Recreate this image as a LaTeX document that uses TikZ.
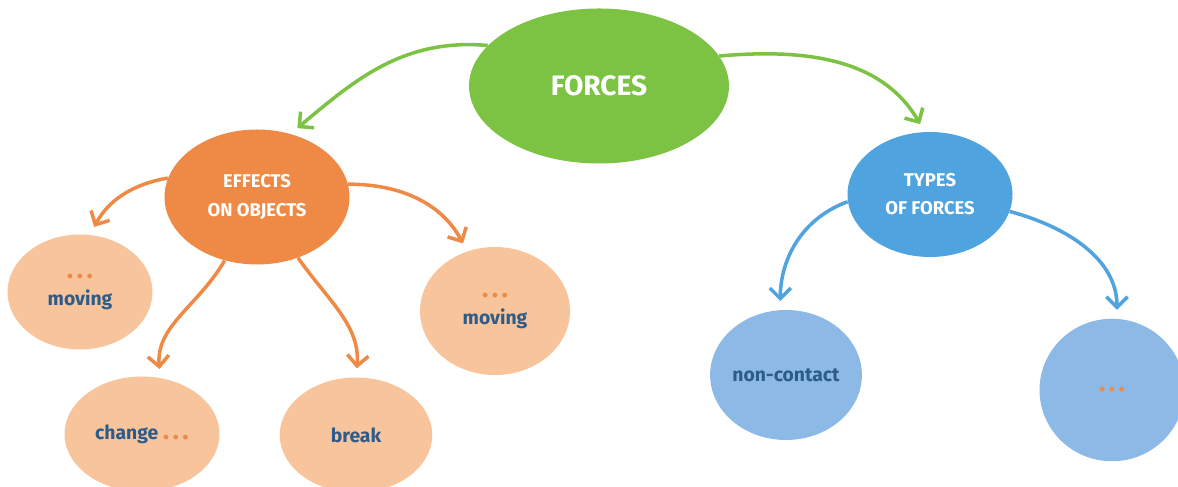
\documentclass[tikz,border=0pt]{standalone}
\usepackage{fontspec}
\setmainfont{Fira Sans}
\usepackage{xcolor}
\usetikzlibrary{arrows.meta,positioning,shapes.geometric}
\definecolor{forcegreen}{HTML}{7CC243}
\definecolor{effectorange}{HTML}{EE8A45}
\definecolor{paleorange}{HTML}{F8C49B}
\definecolor{typeblue}{HTML}{4FA3DF}
\definecolor{paleblue}{HTML}{8DB9E6}
\definecolor{inkblue}{HTML}{2D5B8A}
\newcommand{\moredots}{{\color{effectorange}\fontsize{15}{15}\selectfont
  .\kern2pt.\kern2pt.}}

\begin{document}
\begin{tikzpicture}[
  blob/.style={ellipse, inner sep=0pt, align=center},
  head/.style={blob, text=white, font=\bfseries\fontsize{10.5}{16}\selectfont},
  leaf/.style={blob, fill=paleorange, text=inkblue,
    font=\bfseries\fontsize{11}{15}\selectfont},
  bleaf/.style={leaf, fill=paleblue},
  arr/.style={-{Straight Barb[length=6pt,width=12pt]}, line width=2pt,
    shorten >=5pt},
]
  \useasboundingbox (0,0) rectangle (23.56,9.74);

  \node[head, fill=forcegreen, minimum width=5.2cm, minimum height=3.1cm,
    font=\bfseries\fontsize{16}{18}\selectfont] (forces) at (11.98,8.02) {FORCES};
  \node[head, fill=effectorange, minimum width=3.7cm, minimum height=2.7cm]
    (effects) at (5.14,5.8) {EFFECTS\\ON OBJECTS};
  \node[head, fill=typeblue, minimum width=3.3cm, minimum height=2.5cm]
    (types) at (18.6,5.85) {TYPES\\OF FORCES};

  \node[leaf, minimum width=2.9cm, minimum height=2.3cm]
    (movingl) at (1.6,3.9) {\moredots\\moving};
  \node[leaf, minimum width=3.1cm, minimum height=2.3cm]
    (change) at (2.84,1.06) {change \moredots};
  \node[leaf, minimum width=3.05cm, minimum height=2.3cm]
    (break) at (7.12,1.04) {break};
  \node[leaf, minimum width=3cm, minimum height=2.56cm]
    (movingr) at (9.9,3.52) {\moredots\\moving};

  \node[bleaf, minimum width=2.96cm, minimum height=2.6cm]
    (noncontact) at (15.72,2.24) {non-contact};
  \node[bleaf, minimum width=2.9cm, minimum height=2.85cm]
    (other) at (22.24,1.94) {\moredots};

  \draw[arr, forcegreen] (forces.160) to[out=175, in=40] (effects.62);
  \draw[arr, forcegreen] (forces.14) to[out=5, in=120] (types.95);

  \draw[arr, effectorange] (effects.168) to[out=190, in=62] (movingl.80);
  \draw[arr, effectorange] (effects.8) to[out=0, in=118] (movingr.115);
  \draw[arr, effectorange] (effects.243) to[out=240, in=95] (change.72);
  \draw[arr, effectorange] (effects.304) to[out=-55, in=85] (break.north);

  \draw[arr, typeblue] (types.185) to[out=200, in=90] (noncontact.95);
  \draw[arr, typeblue] (types.348) to[out=-15, in=90] (other.86);
\end{tikzpicture}
\end{document}
